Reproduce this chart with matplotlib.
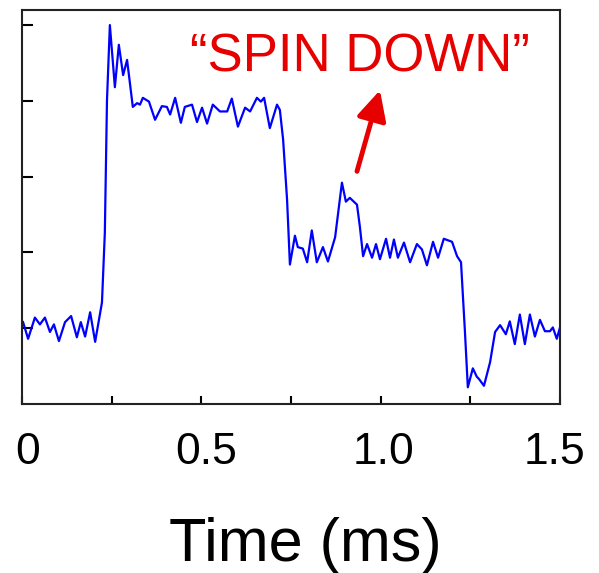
import matplotlib.pyplot as plt
import matplotlib.transforms as mtransforms
import numpy as np

plt.rcParams['font.family'] = ['Liberation Sans', 'DejaVu Sans']

# signal trace (time in ms, signal in arbitrary units)
time_ms = [0.003, 0.017, 0.036, 0.050, 0.064, 0.078, 0.089, 0.103, 0.120, 0.137,
           0.153, 0.164, 0.176, 0.190, 0.204, 0.223, 0.231, 0.237, 0.245, 0.259,
           0.270, 0.282, 0.293, 0.309, 0.321, 0.329, 0.337, 0.354, 0.371, 0.390,
           0.404, 0.413, 0.427, 0.443, 0.454, 0.474, 0.488, 0.502, 0.516, 0.532,
           0.552, 0.572, 0.585, 0.602, 0.622, 0.636, 0.655, 0.666, 0.675, 0.691,
           0.711, 0.719, 0.728, 0.739, 0.747, 0.761, 0.769, 0.783, 0.795, 0.808,
           0.822, 0.839, 0.853, 0.873, 0.892, 0.903, 0.914, 0.934, 0.942, 0.951,
           0.962, 0.976, 0.987, 0.998, 1.015, 1.026, 1.037, 1.048, 1.065, 1.082,
           1.101, 1.115, 1.129, 1.146, 1.160, 1.176, 1.199, 1.213, 1.224, 1.235,
           1.243, 1.257, 1.268, 1.274, 1.288, 1.305, 1.319, 1.333, 1.349, 1.360,
           1.374, 1.388, 1.402, 1.416, 1.430, 1.444, 1.458, 1.472, 1.480, 1.491,
           1.500]
signal = [0.08, -0.14, 0.14, 0.05, 0.14, -0.05, 0.05, -0.17, 0.08, 0.16,
          -0.12, 0.08, -0.11, 0.21, -0.18, 0.34, 1.26, 3.01, 4.00, 3.18,
          3.74, 3.34, 3.54, 2.92, 2.97, 2.95, 3.04, 2.99, 2.75, 2.93,
          2.92, 2.82, 3.04, 2.71, 2.92, 2.95, 2.72, 2.91, 2.70, 2.95,
          2.86, 2.86, 3.03, 2.66, 2.91, 2.86, 3.04, 2.99, 3.04, 2.64,
          2.95, 2.88, 2.49, 1.70, 0.84, 1.22, 1.07, 1.05, 0.87, 1.29,
          0.87, 1.07, 0.88, 1.20, 1.92, 1.67, 1.72, 1.63, 1.34, 0.95,
          1.11, 0.93, 1.11, 0.91, 1.18, 0.93, 1.17, 0.93, 1.13, 0.87,
          1.11, 1.04, 0.83, 1.14, 0.93, 1.18, 1.14, 0.95, 0.87, -0.05,
          -0.78, -0.53, -0.64, -0.67, -0.76, -0.45, -0.05, 0.04, -0.08, 0.09,
          -0.21, 0.18, -0.21, 0.18, -0.11, 0.11, -0.04, -0.04, 0.01, -0.14,
          0.01]

x_labels = ['0', '0.5', '1.0', '1.5']
note = '\u201cSPIN DOWN\u201d'
red = '#e60000'

fig = plt.figure(figsize=(5.99, 5.73), dpi=100)
ax = fig.add_axes([0.0367, 0.295, 0.8982, 0.6877])

ax.plot(time_ms, signal, color='#0000ff', lw=1.6, solid_joinstyle='round')

ax.set_xlim(0, 1.5)
ax.set_ylim(-1, 4.2)
ax.set_xticks([0, 0.5, 1.0, 1.5])
ax.set_xticklabels(x_labels)
ax.set_xticks(np.arange(0, 1.51, 0.25), minor=True)
ax.set_yticks([0, 1, 2, 3, 4])
ax.set_yticklabels([])
ax.tick_params(axis='x', which='both', direction='in', length=6, width=1.5,
               labelsize=32, pad=20)
ax.tick_params(axis='y', direction='in', length=8, width=1.5)
for sp in ax.spines.values():
    sp.set_linewidth(1.5)
    sp.set_color('#222222')

# the labels in the original sit a little off their ticks
for lab, dx in zip(ax.get_xticklabels(), [6, 5, 3, -6]):
    lab.set_transform(lab.get_transform() +
                      mtransforms.ScaledTranslation(dx / 100, 0, fig.dpi_scale_trans))

ax.set_xlabel('Time (ms)', fontsize=44, labelpad=32)
ax.xaxis.label.set_x(0.526)

# annotation
ax.text(0.628, 0.843, note, transform=ax.transAxes, ha='center', va='baseline',
        fontsize=38, color=red)
ax.annotate('', xy=(0.998, 3.14), xytext=(0.934, 2.07),
            arrowprops=dict(arrowstyle='-|>,head_length=0.4,head_width=0.2',
                            mutation_scale=45, lw=3.5, color=red,
                            shrinkA=0, shrinkB=0))

fig.savefig('out.png', dpi=100)
